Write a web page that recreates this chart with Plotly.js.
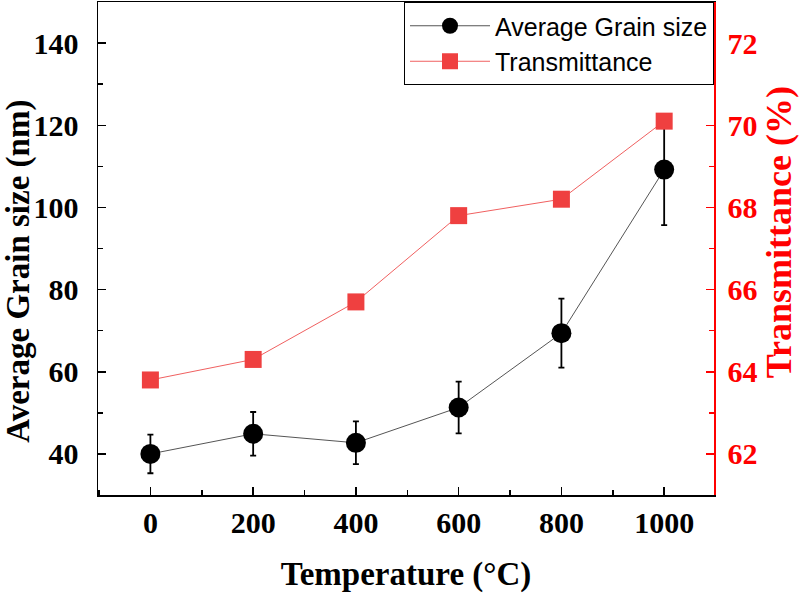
<!DOCTYPE html>
<html>
<head>
<meta charset="utf-8">
<script src="https://cdn.plot.ly/plotly-3.0.1.min.js"></script>
<style>html,body{margin:0;padding:0;background:#fff;}#chart{width:800px;height:593px;}</style>
</head>
<body>
<div id="chart"></div>
<script>
var temperature = [0, 200, 400, 600, 800, 1000];
var grainSize = [40.0, 44.9, 42.7, 51.3, 69.4, 109.2];
var grainError = [4.7, 5.3, 5.2, 6.3, 8.4, 13.5];
var transmittance = [63.8, 64.3, 65.7, 67.8, 68.2, 70.1];

var serifBold = {family: 'Liberation Serif, Times New Roman, serif', weight: 'bold'};

var traces = [
  {
    x: temperature, y: grainSize, name: 'Average Grain size', type: 'scatter', mode: 'lines+markers',
    line: {color: '#555555', width: 1},
    marker: {color: '#000000', size: 20, symbol: 'circle'},
    error_y: {type: 'data', array: grainError, visible: true, color: '#000000', thickness: 1.8, width: 3},
    yaxis: 'y'
  },
  {
    x: temperature, y: transmittance, name: 'Transmittance', type: 'scatter', mode: 'lines+markers',
    line: {color: '#f06060', width: 1},
    marker: {color: '#ef4040', size: 17, symbol: 'square'},
    yaxis: 'y2'
  }
];

var layout = {
  width: 800, height: 593,
  margin: {l: 98, r: 86, t: 2, b: 98},
  paper_bgcolor: '#ffffff', plot_bgcolor: '#ffffff',
  showlegend: true,
  legend: {
    x: 1, y: 1, xanchor: 'right', yanchor: 'top',
    bgcolor: '#ffffff', bordercolor: '#000000', borderwidth: 1,
    font: {family: 'Liberation Sans, Arial, sans-serif', size: 25, color: '#000000'},
    itemwidth: 80,
    tracegroupgap: 0
  },
  xaxis: {
    range: [-102, 1097], tick0: 0, dtick: 200,
    showgrid: false, zeroline: false,
    showline: true, linecolor: '#000000', linewidth: 1.5, mirror: true,
    ticks: 'inside', ticklen: 8, tickwidth: 1.5, tickcolor: '#000000',
    minor: {dtick: 100, ticks: 'inside', ticklen: 5, tickwidth: 1.5, tickcolor: '#000000'},
    tickfont: Object.assign({size: 30, color: '#000000'}, serifBold),
    ticklabelstandoff: 0,
    title: {text: 'Temperature (°C)', font: Object.assign({size: 33, color: '#000000'}, serifBold), standoff: 24}
  },
  yaxis: {
    range: [30, 150], tick0: 0, dtick: 20,
    showgrid: false, zeroline: false,
    showline: true, linecolor: '#000000', linewidth: 1.5,
    ticks: 'inside', ticklen: 8, tickwidth: 1.5, tickcolor: '#000000',
    minor: {dtick: 10, ticks: 'inside', ticklen: 5, tickwidth: 1.5, tickcolor: '#000000'},
    tickfont: Object.assign({size: 30, color: '#000000'}, serifBold),
    ticklabelstandoff: 12
  },
  yaxis2: {
    overlaying: 'y', side: 'right',
    range: [61, 73], tick0: 0, dtick: 2,
    showgrid: false, zeroline: false,
    showline: true, linecolor: '#ff0000', linewidth: 1.5,
    ticks: 'inside', ticklen: 8, tickwidth: 1.5, tickcolor: '#ff0000',
    minor: {dtick: 1, ticks: 'inside', ticklen: 5, tickwidth: 1.5, tickcolor: '#ff0000'},
    tickfont: Object.assign({size: 30, color: '#ff0000'}, serifBold),
    ticklabelstandoff: 6
  },
  annotations: [
    {
      text: 'Average Grain size (nm)', textangle: -90, showarrow: false,
      xref: 'paper', yref: 'paper', x: 0, y: 0.453, xanchor: 'center', yanchor: 'middle', xshift: -79,
      font: Object.assign({size: 33, color: '#000000'}, serifBold)
    },
    {
      text: 'Transmittance (%)', textangle: -90, showarrow: false,
      xref: 'paper', yref: 'paper', x: 1, y: 0.533, xanchor: 'center', yanchor: 'middle', xshift: 65,
      font: Object.assign({size: 36, color: '#ff0000'}, serifBold)
    }
  ]
};

Plotly.newPlot('chart', traces, layout, {displayModeBar: false, staticPlot: true});
</script>
</body>
</html>
